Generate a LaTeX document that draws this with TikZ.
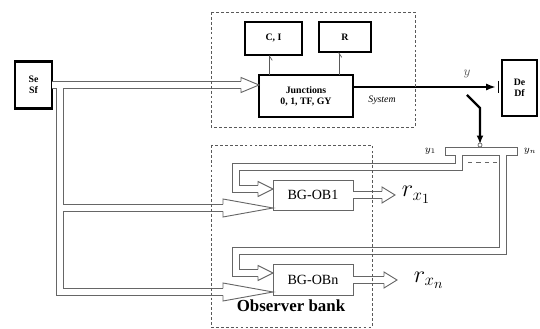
\documentclass[tikz,border=0pt]{standalone}
\usepackage{fontspec}
\setmainfont{Liberation Serif}
\usetikzlibrary{arrows.meta}
\usetikzlibrary{positioning, calc}

\tikzset{
  blk/.style={rectangle, draw, line width=1.5pt, outer sep=0pt, align=center, font=\scriptsize\bfseries, inner sep=1pt},
  obsbox/.style={rectangle, draw=gray!80!black, line width=0.6pt, outer sep=0pt, font=\normalsize},
  chan/.style={draw=gray!80!black, line width=0.65pt, double=white, double distance=4.3pt},
  frame/.style={draw=gray!70!black, line width=0.6pt, dash pattern=on 2pt off 1.5pt},
  pics/hhead/.style 2 args={code={
    \draw[gray!80!black, line width=0.65pt, line join=miter] (-#1,-3.5) -- (-#1,-#2) -- (0,0) -- (-#1,#2) -- (-#1,3.5);
  }},
}

\begin{document}
\begin{tikzpicture}[x=0.25mm, y=-0.25mm]
	\useasboundingbox (0,0) rectangle (540,329);

	% --- Blocks ---
	\node[blk, minimum width=9.25mm, minimum height=11.75mm] (src) at (33.5,85) {Se\\Sf};
	\node[blk, minimum width=14.25mm, minimum height=8.25mm] (ci) at (273.5,38.5) {C, I};
	\node[blk, minimum width=13mm, minimum height=7.5mm] (rr) at (345,37) {R};
	\node[blk, minimum width=23.5mm, minimum height=10.5mm] (jun) at (306,96) {Junctions\\0, 1, TF, GY};
	\node[blk, minimum width=8.75mm, minimum height=14mm] (dd) at (519.5,88) {De\\Df};

	% observers
	\node[obsbox, minimum width=20mm, minimum height=7.5mm] (obA) at (313,195) {BG-OB1};
	\node[obsbox, minimum width=20mm, minimum height=7.75mm] (obB) at (313,280) {BG-OBn};

	% measurement bar
	\node[rectangle, draw=gray!80!black, line width=0.6pt, outer sep=0pt, minimum width=18mm, minimum height=2mm, inner sep=0pt] (bus) at (481,151) {};
	\node[font=\scriptsize, left=1mm of bus.west] (ya) {$y_1$};
	\node[font=\scriptsize, right=0.5mm of bus.east] (yb) {$y_n$};
	\draw[gray!80!black, line width=0.5pt, dashed] (468,162) -- (497,162);

	% --- Junctions to storage / dissipation ---
	\draw[gray!70!black, line width=0.5pt, -{Straight Barb[right, length=3pt, width=4pt]}] ([xshift=-1mm]jun.north -| ci) -- ([xshift=-1mm]ci.south);
	\draw[gray!70!black, line width=0.5pt, -{Straight Barb[right, length=3pt, width=4pt]}] ([xshift=-1.5mm]jun.north -| rr) -- ([xshift=-1.5mm]rr.south);

	% --- Output y ---
	\coordinate (yout) at (415,87);
	\draw[line width=0.8pt] (jun.east |- yout) -- (yout);
	\draw[line width=1.6pt, -{Latex[length=7pt, width=5pt]}] (yout) -- ($(dd.west |- yout)+(-6,0)$);
	\draw[line width=0.6pt] ($(dd.west |- yout)+(-4,-6)$) -- ($(dd.west |- yout)+(-4,6)$);
	\node[font=\small, text=gray!70!black] (ylab) at (467,74) {$y$};

	% switch
	\coordinate (swB) at (480,108);
	\coordinate (swA) at (467,95);
	\draw[gray!80!black, line width=0.5pt, fill=white] ($(swB |- bus.north)+(0,-2)$) circle[radius=0.5mm];
	\draw[line width=1.6pt, -{Latex[length=6pt, width=5pt]}] (swA) -- (swB) -- ($(swB |- bus.north)+(0,-3)$);

	% --- Channels ---
	\coordinate (trunk) at ($(src.east)+(8,0)$);
	\coordinate (tipA) at ($(obA.south west)+(0,-2)$);
	\coordinate (tipB) at ($(obB.south west)+(0,-3.5)$);
	\draw[chan] (src.east) -- ($(jun.west |- src.east)+(-18,0)$)
		(trunk) |- ($(tipB)+(-50,0)$)
		(trunk |- tipA) -- ($(tipA)+(-50,0)$);
	\pic at (jun.west |- src.east) {hhead={18}{7.5}};
	\pic at (tipA) {hhead={50}{9}};
	\pic at (tipB) {hhead={50}{9}};

	% feedback from y1 and yn
	\coordinate (tapY1) at ($(bus.south west)+(14,0)$);
	\coordinate (tapYn) at ($(bus.south east)+(-14,0)$);
	\coordinate (bendA) at (236,167);
	\coordinate (bendB) at (236,251);
	\coordinate (inA) at ($(obA.west)+(0,-6)$);
	\coordinate (inB) at ($(obB.west)+(0,-7)$);
	\draw[chan] (tapY1) |- (bendA) |- ($(inA)+(-15,0)$);
	\draw[chan] (tapYn) |- (bendB) |- ($(inB)+(-15,0)$);
	\pic at (inA) {hhead={15}{7.5}};
	\pic at (inB) {hhead={15}{7.5}};

	% residuals
	\coordinate (outA) at ($(obA.east)+(42,0)$);
	\coordinate (outB) at ($(obB.east)+(44,0)$);
	\draw[chan] (obA.east) -- ($(outA)+(-13,0)$);
	\draw[chan] (obB.east) -- ($(outB)+(-13,0)$);
	\pic at (outA) {hhead={13}{8}};
	\pic at (outB) {hhead={13}{8}};
	\node[font=\LARGE, right=0.5mm of outA] (rA) {$r_{x_1}$};
	\node[font=\LARGE, right=3mm of outB] (rB) {$r_{x_n}$};

	% --- Frames ---
	\draw[frame] (211,12) rectangle (415,127);
	\node[font=\scriptsize\itshape] (systxt) at (382,100) {System};
	\draw[frame] (211,145) rectangle (372,327);
	\node[font=\large\bfseries] (obstxt) at (291,306) {Observer bank};
\end{tikzpicture}
\end{document}
